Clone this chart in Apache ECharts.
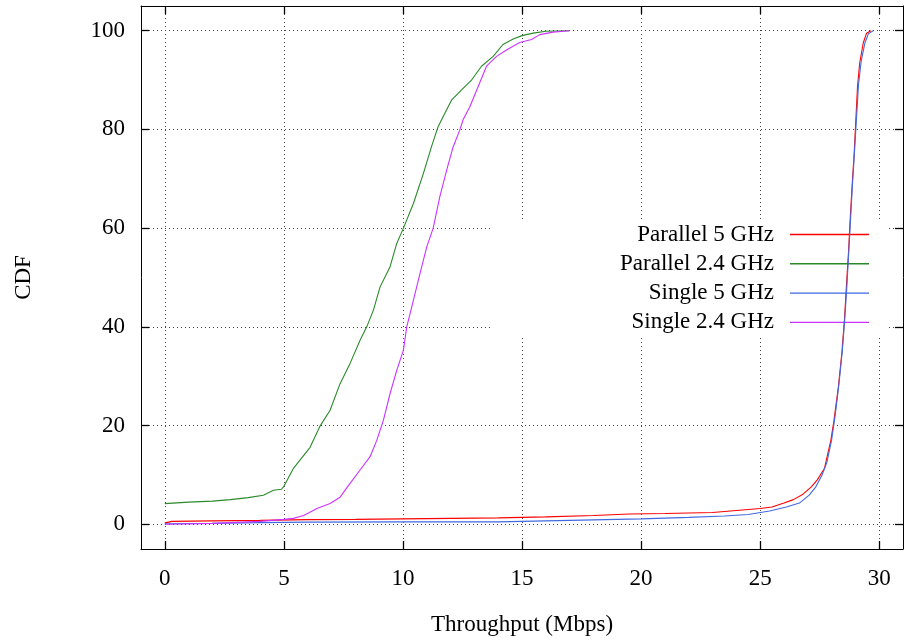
<!DOCTYPE html>
<html><head><meta charset="utf-8">
<script src="https://cdn.jsdelivr.net/npm/echarts@6/dist/echarts.min.js"></script>
<style>html,body{margin:0;padding:0;background:#fff}#c{width:904px;height:641px}</style>
</head><body><div id="c"></div><script>
const seriesNames = ['Parallel 5 GHz', 'Parallel 2.4 GHz', 'Single 5 GHz', 'Single 2.4 GHz'];
const seriesColors = ['#ff0000', '#2a8a2a', '#4169e1', '#cc33ff'];

const parallel5 = [[0,0.3],[0.3,0.6],[2,0.7],[4,0.8],[6,0.95],[8,1.0],[10,1.1],[12,1.2],[14,1.3],[16,1.5],[18,1.8],[19.5,2.1],[21,2.2],[23,2.4],[24,2.8],[25,3.2],[25.5,3.5],[26,4.3],[26.4,5.0],[26.8,6.1],[27.15,7.6],[27.4,9],[27.7,11.3],[27.97,17],[28.1,21],[28.29,28],[28.43,34.6],[28.54,41.4],[28.62,48],[28.71,55],[28.78,61.7],[28.86,68.4],[28.95,75.2],[29.02,82],[29.09,88.7],[29.18,93.4],[29.33,97.5],[29.47,99.5],[29.65,100]];
const parallel24 = [[0,4.2],[1,4.5],[2,4.7],[2.75,5.0],[3.5,5.4],[4.14,5.9],[4.56,6.9],[4.9,7.1],[5.0,7.7],[5.41,11.4],[6.1,15.6],[6.53,20],[6.94,23.1],[7.36,28.5],[7.78,32.6],[8.2,37.3],[8.48,40],[8.76,43.4],[9.04,48.1],[9.46,52.2],[9.74,56.9],[10.02,60],[10.44,65],[10.86,71.1],[11.2,76.5],[11.48,80.6],[11.69,82.6],[12.05,86],[12.46,88],[12.88,90],[13.3,92.8],[13.79,94.8],[14.2,97.2],[14.63,98.3],[15.0,99],[15.47,99.5],[16.0,99.9],[17.0,100]];
const single5 = [[0,0.1],[2,0.2],[4,0.35],[6,0.45],[10,0.5],[14,0.5],[16,0.7],[18,0.9],[20,1.1],[22,1.4],[23.5,1.7],[24.5,2.0],[25.4,2.7],[26.1,3.5],[26.65,4.3],[27.06,5.9],[27.34,7.6],[27.6,10],[27.8,12.5],[28.0,17],[28.15,22],[28.3,28],[28.45,35],[28.56,42],[28.64,48],[28.72,55],[28.8,62],[28.88,69],[28.97,76],[29.05,82.5],[29.13,89],[29.25,94],[29.4,97.5],[29.55,99.4],[29.75,100]];
const single24 = [[0,0],[2,0.2],[4,0.6],[5,1.0],[5.4,1.2],[5.83,1.8],[6.39,3.2],[6.94,4.2],[7.36,5.5],[7.78,8.3],[8.2,11],[8.62,13.7],[8.9,17],[9.18,21.1],[9.46,26.5],[9.74,31.2],[10.02,35.3],[10.16,40],[10.44,45.4],[10.72,50.9],[11.0,56.2],[11.27,60],[11.55,66.4],[11.84,71.8],[12.11,76.5],[12.39,79.9],[12.53,82],[12.81,84.6],[13.16,88.7],[13.51,92.8],[13.93,94.8],[14.35,96.1],[14.9,97.6],[15.4,98.2],[15.75,99.2],[16.3,99.7],[17.0,100]];

const xTicks = [0, 5, 10, 15, 20, 25, 30];
const yTicks = [0, 20, 40, 60, 80, 100];
const xRange = [-1, 31];
const yRange = [-5, 105];
const xTitle = 'Throughput (Mbps)';
const yTitle = 'CDF';

const FONT = 'Liberation Serif';
const FS = 23;
const chart = echarts.init(document.getElementById('c'), null, {renderer: 'canvas'});

function axisBase(ticks, range, showLabel, pos, margin) {
  return {
    type: 'value', min: range[0], max: range[1], position: pos,
    axisLine: {show: true, onZero: false, lineStyle: {color: '#000', width: 1}},
    axisTick: {show: true, inside: true, length: 8, customValues: ticks, lineStyle: {color: '#000', width: 1.3}},
    axisLabel: {show: showLabel, customValues: ticks, margin: margin, color: '#000', fontFamily: FONT, fontSize: FS},
    splitLine: {show: showLabel, lineStyle: {color: '#444', type: [1, 3], width: 1}}
  };
}

const dataSets = [parallel5, parallel24, single5, single24];

const option = {
  backgroundColor: '#fff',
  animation: false,
  grid: {left: 141, top: 6, right: 1, bottom: 92, show: false},
  xAxis: [
    Object.assign(axisBase(xTicks, xRange, true, 'bottom', 18), {
      name: xTitle, nameLocation: 'middle', nameGap: 64,
      nameTextStyle: {color: '#000', fontFamily: FONT, fontSize: FS}
    }),
    axisBase(xTicks, xRange, false, 'top', 8)
  ],
  yAxis: [
    Object.assign(axisBase(yTicks, yRange, true, 'left', 16), {
      name: yTitle, nameLocation: 'middle', nameGap: 106, nameRotate: 90,
      nameTextStyle: {color: '#000', fontFamily: FONT, fontSize: FS}
    }),
    axisBase(yTicks, yRange, false, 'right', 8)
  ],
  graphic: [{type: 'rect', z: 1, shape: {x: 490, y: 219, width: 396, height: 116}, style: {fill: '#fff'}}],
  legend: {
    orient: 'vertical', align: 'right', right: 35, top: 223, padding: 0,
    icon: 'rect', itemWidth: 79, itemHeight: 1.4, itemGap: 6.3, z: 2, selectedMode: false,
    data: seriesNames,
    textStyle: {color: '#000', fontFamily: FONT, fontSize: FS, lineHeight: 23, padding: [0, 11, 0, 0]}
  },
  series: seriesNames.map((n, i) => ({
    name: n, type: 'line', data: dataSets[i], symbol: 'none', showSymbol: false,
    xAxisIndex: 0, yAxisIndex: 0, z: 3,
    lineStyle: {color: seriesColors[i], width: 1.1}, itemStyle: {color: seriesColors[i]}
  }))
};
chart.setOption(option);
</script></body></html>
